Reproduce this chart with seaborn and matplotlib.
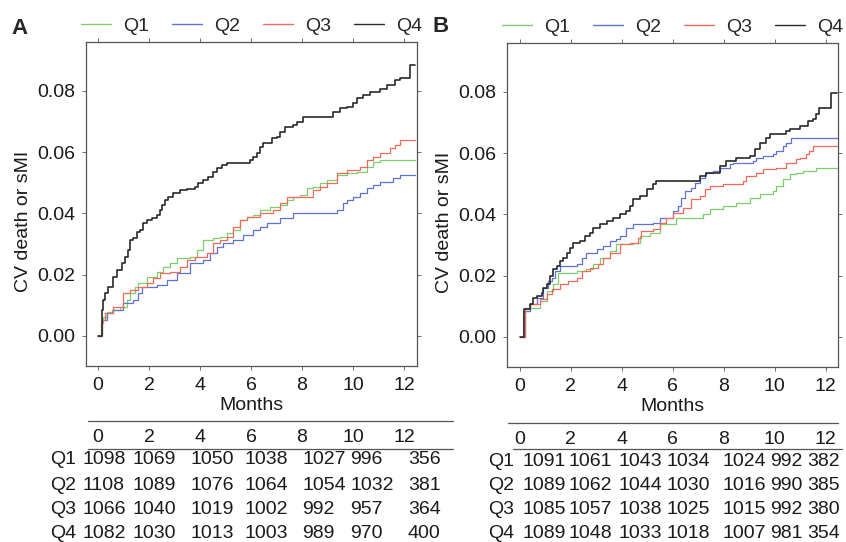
"""
Cumulative incidence of CV death or sMI by quartile (panels A and B)
with numbers-at-risk tables underneath.
"""

import matplotlib
matplotlib.use('Agg')
import matplotlib.pyplot as plt
import matplotlib.transforms as mtransforms
import seaborn as sns

sns.set_style("ticks")
plt.rcParams['font.family'] = ['Liberation Sans', 'DejaVu Sans']
plt.rcParams['font.size'] = 14

quartiles = ['Q1', 'Q2', 'Q3', 'Q4']
colors = ['#7ccf6a', '#5f73d6', '#f46a5a', '#2a2a2a']
month_ticks = [0, 2, 4, 6, 8, 10, 12]

# ---- panel A curves (months, cumulative incidence) ----
a_months_q1 = [0, 0.10, 0.21, 0.34, 0.54, 0.86, 1.12, 1.25, 1.45, 1.58, 1.91, 2.30, 2.56,
               2.82, 3.08, 3.61, 3.87, 4.13, 4.52, 4.78, 5.05, 5.31, 5.57, 5.83, 6.09,
               6.35, 6.75, 7.14, 7.40, 7.66, 7.92, 8.18, 8.44, 8.71, 8.97, 9.36, 9.75,
               10.14, 10.54, 10.80, 11.06, 12.45]
a_risk_q1 = [0, 0.0041, 0.0063, 0.0079, 0.0085, 0.0096, 0.0118, 0.0139, 0.0161, 0.0172,
             0.0194, 0.0210, 0.0226, 0.0237, 0.0254, 0.0259, 0.0281, 0.0313, 0.0319,
             0.0324, 0.0335, 0.0346, 0.0379, 0.0390, 0.0395, 0.0411, 0.0422, 0.0428,
             0.0444, 0.0455, 0.0460, 0.0482, 0.0488, 0.0498, 0.0509, 0.0526, 0.0531,
             0.0537, 0.0553, 0.0569, 0.0575, 0.0575]

a_months_q2 = [0, 0.14, 0.34, 0.60, 0.99, 1.39, 1.58, 1.71, 2.30, 2.69, 3.08, 3.61, 4.13,
               4.39, 4.65, 4.92, 5.31, 5.70, 6.09, 6.35, 6.61, 7.14, 7.66, 9.36, 9.62,
               9.75, 10.01, 10.27, 10.54, 10.80, 11.06, 11.58, 11.84, 12.45]
a_risk_q2 = [0, 0.0052, 0.0074, 0.0085, 0.0107, 0.0118, 0.0139, 0.0161, 0.0167, 0.0183,
             0.0205, 0.0237, 0.0248, 0.0270, 0.0292, 0.0303, 0.0313, 0.0330, 0.0346,
             0.0357, 0.0368, 0.0384, 0.0400, 0.0411, 0.0433, 0.0444, 0.0455, 0.0466,
             0.0482, 0.0493, 0.0504, 0.0515, 0.0526, 0.0526]

a_months_q3 = [0, 0.14, 0.27, 0.60, 0.99, 1.25, 1.58, 1.91, 2.17, 2.43, 2.82, 3.22, 3.48,
               3.80, 4.26, 4.52, 4.78, 5.05, 5.31, 5.57, 5.83, 6.35, 6.88, 7.14, 7.40,
               8.44, 8.71, 8.97, 9.36, 9.75, 10.27, 10.54, 10.80, 11.06, 11.45, 11.65,
               11.84, 12.45]
a_risk_q3 = [0, 0.0052, 0.0074, 0.0096, 0.0139, 0.0150, 0.0161, 0.0172, 0.0188, 0.0205,
             0.0210, 0.0226, 0.0248, 0.0259, 0.0270, 0.0303, 0.0313, 0.0324, 0.0357,
             0.0379, 0.0390, 0.0400, 0.0411, 0.0433, 0.0455, 0.0477, 0.0488, 0.0498,
             0.0531, 0.0542, 0.0553, 0.0575, 0.0585, 0.0596, 0.0613, 0.0624, 0.0640,
             0.0640]

a_months_q4 = [0, 0.14, 0.18, 0.27, 0.41, 0.60, 0.73, 0.93, 1.06, 1.19, 1.25, 1.39, 1.52,
               1.65, 1.78, 1.91, 2.10, 2.30, 2.43, 2.50, 2.63, 2.76, 2.95, 3.22, 3.48,
               3.80, 3.93, 4.13, 4.33, 4.52, 4.65, 4.85, 5.05, 5.96, 6.09, 6.22, 6.35,
               6.48, 6.81, 7.01, 7.14, 7.33, 7.66, 7.79, 8.05, 9.23, 9.49, 9.75, 10.01,
               10.14, 10.41, 10.67, 11.06, 11.32, 11.65, 11.84, 12.24, 12.45]
a_risk_q4 = [0, 0.0085, 0.0118, 0.0139, 0.0161, 0.0194, 0.0215, 0.0237, 0.0259, 0.0281,
             0.0313, 0.0319, 0.0341, 0.0346, 0.0368, 0.0379, 0.0384, 0.0395, 0.0411,
             0.0428, 0.0444, 0.0455, 0.0466, 0.0477, 0.0479, 0.0488, 0.0498, 0.0509,
             0.0520, 0.0537, 0.0547, 0.0558, 0.0564, 0.0575, 0.0585, 0.0596, 0.0618,
             0.0629, 0.0645, 0.0651, 0.0667, 0.0683, 0.0689, 0.0700, 0.0716, 0.0732,
             0.0743, 0.0749, 0.0760, 0.0776, 0.0787, 0.0798, 0.0805, 0.0819, 0.0836,
             0.0841, 0.0885, 0.0885]

# ---- panel B curves ----
b_months_q1 = [0, 0.13, 0.39, 0.78, 1.05, 1.31, 1.50, 2.22, 2.61, 2.88, 3.14, 3.53, 3.79,
               4.44, 4.71, 5.10, 5.49, 6.14, 7.19, 7.45, 7.97, 8.50, 9.02, 9.41, 9.93,
               10.07, 10.33, 10.59, 10.85, 11.11, 11.63, 12.45]
b_risk_q1 = [0, 0.0085, 0.0096, 0.0118, 0.0150, 0.0172, 0.0210, 0.0215, 0.0221, 0.0237,
             0.0259, 0.0281, 0.0303, 0.0308, 0.0330, 0.0341, 0.0368, 0.0390, 0.0400,
             0.0417, 0.0428, 0.0439, 0.0455, 0.0466, 0.0477, 0.0493, 0.0515, 0.0531,
             0.0537, 0.0542, 0.0553, 0.0553]

b_months_q2 = [0, 0.20, 0.39, 0.65, 0.92, 1.11, 1.24, 1.37, 1.57, 2.22, 2.42, 2.61, 3.01,
               3.27, 3.53, 3.79, 3.92, 4.18, 4.44, 5.23, 5.49, 6.01, 6.21, 6.34, 6.47,
               6.73, 6.86, 7.06, 7.25, 7.58, 7.84, 8.24, 8.37, 9.15, 9.28, 9.54, 9.93,
               10.07, 10.33, 10.46, 10.65, 12.45]
b_risk_q2 = [0, 0.0085, 0.0107, 0.0128, 0.0161, 0.0183, 0.0194, 0.0215, 0.0232, 0.0237,
             0.0259, 0.0275, 0.0286, 0.0297, 0.0313, 0.0319, 0.0330, 0.0357, 0.0368,
             0.0373, 0.0390, 0.0411, 0.0428, 0.0455, 0.0477, 0.0488, 0.0504, 0.0520,
             0.0537, 0.0542, 0.0553, 0.0564, 0.0569, 0.0575, 0.0585, 0.0591, 0.0596,
             0.0607, 0.0624, 0.0634, 0.0651, 0.0651]

b_months_q3 = [0, 0.20, 0.39, 0.78, 1.05, 1.24, 1.57, 1.90, 2.22, 2.42, 2.75, 3.07, 3.27,
               3.53, 3.92, 4.31, 4.64, 4.77, 5.23, 5.49, 5.75, 6.01, 6.41, 6.73, 7.06,
               7.25, 7.45, 7.97, 8.76, 8.89, 9.28, 9.54, 10.07, 10.46, 10.85, 10.98,
               11.24, 11.37, 11.50, 12.45]
b_risk_q3 = [0, 0.0096, 0.0107, 0.0123, 0.0139, 0.0156, 0.0172, 0.0183, 0.0194, 0.0215,
             0.0226, 0.0237, 0.0259, 0.0275, 0.0303, 0.0308, 0.0324, 0.0346, 0.0352,
             0.0373, 0.0390, 0.0406, 0.0422, 0.0449, 0.0460, 0.0482, 0.0493, 0.0498,
             0.0509, 0.0526, 0.0537, 0.0547, 0.0553, 0.0569, 0.0580, 0.0585, 0.0596,
             0.0607, 0.0624, 0.0624]

b_months_q4 = [0, 0.16, 0.39, 0.52, 0.65, 0.85, 0.92, 1.05, 1.18, 1.31, 1.44, 1.57, 1.70,
               1.83, 1.96, 2.09, 2.35, 2.55, 2.75, 2.88, 3.14, 3.40, 3.66, 3.92, 4.18,
               4.31, 4.44, 4.71, 4.97, 5.23, 5.36, 7.06, 7.32, 7.84, 8.10, 8.50, 9.02,
               9.22, 9.41, 9.67, 9.80, 10.46, 10.59, 10.98, 11.31, 11.50, 11.63, 11.76,
               12.22, 12.45]
b_risk_q4 = [0, 0.0090, 0.0107, 0.0128, 0.0134, 0.0145, 0.0161, 0.0172, 0.0199, 0.0221,
             0.0232, 0.0248, 0.0259, 0.0275, 0.0292, 0.0308, 0.0313, 0.0330, 0.0341,
             0.0357, 0.0368, 0.0379, 0.0390, 0.0400, 0.0411, 0.0428, 0.0449, 0.0460,
             0.0482, 0.0498, 0.0509, 0.0526, 0.0537, 0.0558, 0.0575, 0.0585, 0.0591,
             0.0613, 0.0634, 0.0651, 0.0662, 0.0673, 0.0680, 0.0689, 0.0705, 0.0711,
             0.0727, 0.0749, 0.0798, 0.0798]

# ---- numbers at risk ----
a_at_risk_q1 = [1098, 1069, 1050, 1038, 1027, 996, 356]
a_at_risk_q2 = [1108, 1089, 1076, 1064, 1054, 1032, 381]
a_at_risk_q3 = [1066, 1040, 1019, 1002, 992, 957, 364]
a_at_risk_q4 = [1082, 1030, 1013, 1003, 989, 970, 400]
b_at_risk_q1 = [1091, 1061, 1043, 1034, 1024, 992, 382]
b_at_risk_q2 = [1089, 1062, 1044, 1030, 1016, 990, 385]
b_at_risk_q3 = [1085, 1057, 1038, 1025, 1015, 992, 380]
b_at_risk_q4 = [1089, 1048, 1033, 1018, 1007, 981, 354]

# layout of the at-risk tables (figure pixels)
a_col_left = [82, 133, 190, 245, 302, 350, 408]
b_col_left = [522, 568, 618, 667, 722, 770, 807]
a_row_y = [460, 486, 510, 533]
b_row_y = [461, 486, 510, 533]

W, H = 846, 542
fig = plt.figure(figsize=(W / 100, H / 100), dpi=100)

panels = [
    dict(letter='A', rect=[86 / W, 1 - 366 / H, 331 / W, 324 / H], xlim=(-0.47, 12.51),
         months=[a_months_q1, a_months_q2, a_months_q3, a_months_q4],
         risk=[a_risk_q1, a_risk_q2, a_risk_q3, a_risk_q4],
         at_risk=[a_at_risk_q1, a_at_risk_q2, a_at_risk_q3, a_at_risk_q4],
         col_left=a_col_left, row_y=a_row_y, row_lab_x=50,
         lines=[(88, 453, 421), (88, 453, 449)], header_y=438, letter_xy=(11, 28)),
    dict(letter='B', rect=[507 / W, 1 - 367 / H, 331 / W, 324 / H], xlim=(-0.51, 12.49),
         months=[b_months_q1, b_months_q2, b_months_q3, b_months_q4],
         risk=[b_risk_q1, b_risk_q2, b_risk_q3, b_risk_q4],
         at_risk=[b_at_risk_q1, b_at_risk_q2, b_at_risk_q3, b_at_risk_q4],
         col_left=b_col_left, row_y=b_row_y, row_lab_x=488,
         lines=[(508, 838, 423), (513, 842, 449)], header_y=439, letter_xy=(433, 26)),
]

# overlay in pixel units for the tables and panel letters
over = fig.add_axes([0, 0, 1, 1], zorder=-1)
over.set_xlim(0, W)
over.set_ylim(H, 0)
over.axis('off')

for p in panels:
    ax = fig.add_axes(p['rect'])
    for q, c, m, r in zip(quartiles, colors, p['months'], p['risk']):
        lw = 1.2 if q == 'Q4' else 0.9
        sns.lineplot(x=m, y=r, ax=ax, color=c, label=q, lw=lw,
                     drawstyle='steps-post', estimator=None, sort=False)

    ax.set_xlim(*p['xlim'])
    ax.set_ylim(-0.0098, 0.096)
    ax.set_xticks(month_ticks)
    ax.set_yticks([0, 0.02, 0.04, 0.06, 0.08])
    ax.set_yticklabels(['0.00', '0.02', '0.04', '0.06', '0.08'])
    ax.tick_params(direction='out', length=3, width=0.6, color='#555555',
                   labelcolor='#1a1a1a', top=True, right=True)
    ax.tick_params(axis='x', pad=5)
    ax.tick_params(axis='y', pad=5)
    for s in ax.spines.values():
        s.set_color('#555555')
        s.set_linewidth(0.9)
    ax.set_xlabel('Months', labelpad=2, color='#1a1a1a')
    ax.set_ylabel('CV death or sMI', color='#1a1a1a')
    ax.yaxis.set_label_coords(-0.163, 0.445)

    leg = ax.legend(loc='center', bbox_to_anchor=(0.5, 1.05), ncol=4, frameon=False,
                    handlelength=1.55, handletextpad=0.6, columnspacing=1.2,
                    borderaxespad=0, borderpad=0)
    for h in leg.get_lines():
        h.set_linewidth(1.0)

    # panel letter
    over.text(p['letter_xy'][0], p['letter_xy'][1], p['letter'], fontsize=16,
              fontweight='bold', ha='left', va='center')

    # at-risk table
    for x0, x1, y in p['lines']:
        over.plot([x0, x1], [y, y], color='#555555', lw=0.9)
    blend = mtransforms.blended_transform_factory(ax.transData, over.transData)
    for mt in month_ticks:
        over.text(mt, p['header_y'], str(mt), transform=blend,
                  ha='center', va='center', color='#1a1a1a')
    for q, vals, y in zip(quartiles, p['at_risk'], p['row_y']):
        over.text(p['row_lab_x'], y, q, ha='left', va='center', color='#1a1a1a')
        for x, v in zip(p['col_left'], vals):
            over.text(x, y, str(v), ha='left', va='center', color='#1a1a1a')

plt.savefig('out.png', dpi=100)
plt.close()
